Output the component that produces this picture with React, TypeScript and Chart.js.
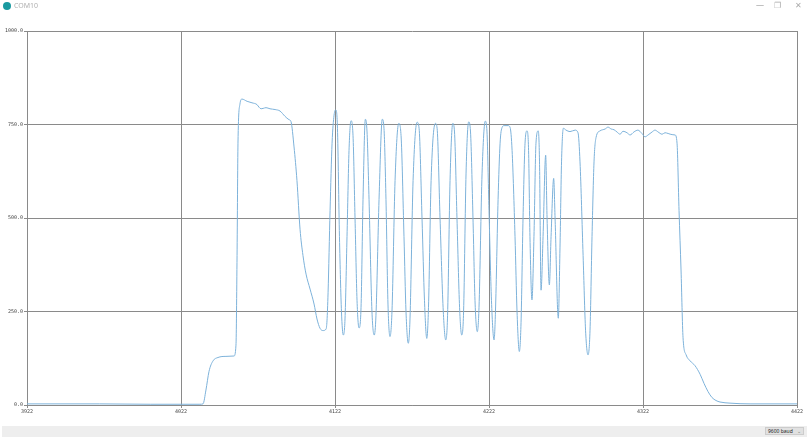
import React, { useEffect, useRef } from "react";
import { Chart, registerables } from "chart.js";

Chart.register(...registerables);

const portName = "COM10";
const baudLabel = "9600 baud";

const sampleIndex: number[] = [
  3922, 3969, 4002, 4034.3, 4036.3, 4038.2, 4040.2, 4042.8, 4046, 4051.2, 4056.4,
  4057.7, 4058.4, 4059, 4060.3, 4061.6, 4064.9, 4068.1, 4071.4, 4072.7, 4074, 4075.3,
  4077.2, 4079.8, 4083.1, 4086.3, 4089.5, 4092.1, 4093.4, 4095.4, 4097.3, 4099.3,
  4101.2, 4103.2, 4105.8, 4108.4, 4110.3, 4112.3, 4114.2, 4116.2, 4116.8, 4117.5,
  4118.8, 4120.1, 4121.4, 4122.5, 4123.6, 4124.9, 4126.2, 4127.4, 4128.5, 4129.8,
  4131.1, 4132.4, 4133.7, 4135, 4136.3, 4137.6, 4138.9, 4140.2, 4141.7, 4142.8,
  4144.1, 4146, 4147.5, 4148.6, 4150.6, 4152.7, 4153.8, 4155.1, 4156.4, 4157.7,
  4159, 4161, 4163.4, 4164.9, 4166.8, 4168.1, 4169.6, 4170.7, 4172.7, 4175.3,
  4176.6, 4178.5, 4180.1, 4181.6, 4182.7, 4184.4, 4187.2, 4188.3, 4190.2, 4192.2,
  4193.9, 4195.1, 4196.7, 4198.5, 4199.6, 4201.2, 4202.9, 4204.3, 4205.5, 4207.1,
  4208.8, 4210, 4211.6, 4212.9, 4214.4, 4215.5, 4217.5, 4219.6, 4220.7, 4222,
  4223.6, 4225.3, 4226.2, 4227.9, 4229.2, 4230.5, 4231.8, 4234.4, 4235.7, 4237,
  4238.9, 4240.2, 4241.7, 4242.8, 4244.1, 4245.4, 4246.7, 4247.7, 4248.6, 4249.9,
  4251.2, 4252.5, 4254, 4254.8, 4255.8, 4257.1, 4258.8, 4259.7, 4261.2, 4262.3,
  4264, 4264.9, 4267, 4268.1, 4269.1, 4270.3, 4272, 4274.6, 4277.9, 4279.8,
  4281.1, 4283.1, 4284.7, 4286.3, 4287.6, 4288.9, 4290.2, 4291.5, 4294.1, 4297.4,
  4299.3, 4301.3, 4303.2, 4305.1, 4307.1, 4309, 4311.6, 4313.6, 4316.1, 4318.7,
  4321.3, 4323.3, 4325.3, 4327.9, 4329.8, 4331.8, 4334.4, 4336.3, 4338.3, 4340.9,
  4342.8, 4344.1, 4345.4, 4346.7, 4348, 4350, 4352.6, 4355.8, 4359.1, 4361.6,
  4364.2, 4366.8, 4369.4, 4372, 4378.5, 4391.5, 4422,
];

const sensorValue: number[] = [
  3, 3, 2, 2, 3, 40, 90, 118, 127, 130, 131,
  160, 400, 700, 805, 818, 812, 808, 803, 796, 792, 793,
  795, 792, 790, 786, 772, 763, 758, 690, 600, 470,
  400, 350, 310, 270, 230, 205, 199, 203, 225, 300,
  520, 700, 775, 789, 740, 450, 250, 187, 230, 450,
  680, 760, 720, 500, 280, 206, 260, 550, 764, 730,
  550, 250, 187, 240, 550, 764, 740, 550, 270, 183,
  250, 600, 753, 720, 450, 250, 165, 230, 600, 756,
  740, 500, 280, 178, 260, 600, 753, 740, 500, 260,
  174, 240, 600, 753, 730, 500, 260, 187, 250, 620,
  757, 730, 500, 280, 196, 260, 620, 759, 730, 520,
  280, 174, 250, 550, 700, 742, 747, 747, 742, 680,
  450, 250, 143, 220, 500, 700, 733, 680, 450, 281,
  450, 700, 733, 650, 307, 450, 668, 500, 321, 450,
  606, 500, 232, 420, 650, 740, 735, 731, 735, 728,
  650, 400, 200, 134, 200, 450, 650, 715, 733, 738,
  743, 738, 736, 730, 724, 732, 728, 722, 730, 735,
  726, 717, 722, 730, 735, 730, 724, 728, 726, 723,
  722, 700, 520, 361, 180, 134, 118, 105, 82, 58,
  36, 20, 12, 8, 5, 3, 3,
];

const xTicks: number[] = [3922, 4022, 4122, 4222, 4322, 4422];
const yTicks: number[] = [0, 250, 500, 750, 1000];

function PlotChart() {
  const ref = useRef<HTMLCanvasElement | null>(null);
  useEffect(() => {
    if (!ref.current) return;
    const points = sampleIndex.map((x, i) => ({ x, y: sensorValue[i] }));
    const chart = new Chart(ref.current, {
      type: "line",
      data: {
        datasets: [
          {
            data: points,
            borderColor: "#7db2da",
            borderWidth: 1,
            pointRadius: 0,
            cubicInterpolationMode: "monotone",
            fill: false,
          },
        ],
      },
      options: {
        animation: false,
        responsive: false,
        maintainAspectRatio: false,
        parsing: false as any,
        layout: { padding: { left: 0, right: 10, top: 31, bottom: 20 } },
        plugins: { legend: { display: false }, tooltip: { enabled: false } },
        scales: {
          x: {
            type: "linear",
            min: xTicks[0],
            max: xTicks[xTicks.length - 1],
            afterBuildTicks: (s: any) => {
              s.ticks = xTicks.map((v) => ({ value: v }));
            },
            afterFit: (s: any) => {
              s.height = 12;
            },
            grid: { color: "#8a8a8a", lineWidth: 1, tickLength: 3 },
            border: { color: "#8a8a8a" },
            ticks: {
              color: "#444",
              font: { family: "DejaVu Sans Mono", size: 5 },
              maxRotation: 0,
              padding: 1,
              autoSkip: false,
              callback: (v: any) => String(v),
            },
          },
          y: {
            type: "linear",
            min: 0,
            max: 1000,
            afterBuildTicks: (s: any) => {
              s.ticks = yTicks.map((v) => ({ value: v }));
            },
            afterFit: (s: any) => {
              s.width = 27;
            },
            grid: { color: "#8a8a8a", lineWidth: 1, tickLength: 3 },
            border: { color: "#8a8a8a" },
            ticks: {
              color: "#444",
              font: { family: "DejaVu Sans Mono", size: 5 },
              padding: 1,
              callback: (v: any) => Number(v).toFixed(1),
            },
          },
        },
      },
    });
    return () => chart.destroy();
  }, []);
  return (
    <canvas
      ref={ref}
      width={807}
      height={437}
      style={{ position: "absolute", left: 0, top: 0, width: 807, height: 437 }}
    />
  );
}

export default function App() {
  return (
    <div
      style={{
        position: "fixed",
        left: 0,
        top: 0,
        width: 807,
        height: 437,
        background: "#fff",
        overflow: "hidden",
        fontFamily: "'Noto Sans', sans-serif",
      }}
    >
      <PlotChart />
      <div
        style={{
          position: "absolute",
          left: 3,
          top: 2,
          width: 8,
          height: 8,
          borderRadius: 4,
          background: "#1a9aa0",
        }}
      />
      <div style={{ position: "absolute", left: 14, top: 1, fontSize: 7, color: "#b0b0b0", lineHeight: "10px" }}>
        {portName}
      </div>
      <div style={{ position: "absolute", left: 756, top: 0, fontSize: 8, color: "#aaa", lineHeight: "10px" }}>—</div>
      <div style={{ position: "absolute", left: 774, top: 0, fontSize: 8, color: "#aaa", lineHeight: "10px" }}>❐</div>
      <div style={{ position: "absolute", left: 795, top: 0, fontSize: 8, color: "#aaa", lineHeight: "10px" }}>✕</div>
      <div
        style={{
          position: "absolute",
          left: 2,
          top: 426,
          width: 805,
          height: 11,
          background: "#eeeeee",
        }}
      />
      <div
        style={{
          position: "absolute",
          left: 765,
          top: 427,
          width: 39,
          height: 8,
          background: "#e1e1e1",
          border: "1px solid #ccc",
          boxSizing: "border-box",
          fontSize: 5,
          lineHeight: "7px",
          color: "#222",
          paddingLeft: 2,
        }}
      >
        {baudLabel}
        <span style={{ position: "absolute", right: 2, top: 0, color: "#777" }}>⌄</span>
      </div>
    </div>
  );
}
